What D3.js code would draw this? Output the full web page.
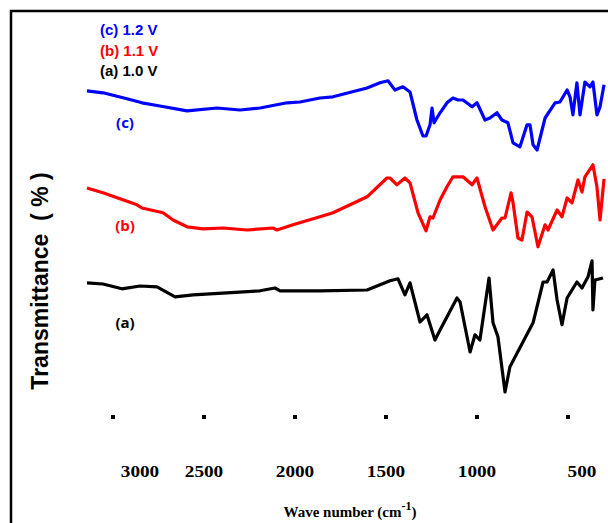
<!DOCTYPE html>
<meta charset="utf-8">
<script src="https://d3js.org/d3.v7.min.js"></script>
<style>
	body{
		margin:0;
		background:#fff;
	}
</style>
<div id="chart"></div>
<script>
// spectra, [wave number (cm-1), transmittance %]
var spectrumC = [[3143,82.3],[3055,81.8],[2923,80.3],[2841,79.3],[2742,78.5],[2593,77.3],[2429,78],[2302,77.5],[2192,78],[2044,79.3],[1973,79.5],[1863,80.5],[1791,80.8],[1604,83],[1533,84.3],[1489,84.8],[1451,82.5],[1407,83.3],[1368,82],[1330,75],[1297,71],[1280,71],[1258,73.8],[1247,78],[1236,74.3],[1203,76.8],[1165,79.3],[1132,80.5],[1104,80],[1077,80],[1027,78.3],[1000,79.3],[956,75],[929,75.5],[890,76.8],[863,75],[830,74.3],[802,69.3],[764,68.3],[725,73.8],[709,73.8],[692,68.8],[670,67.5],[626,75.5],[571,79.3],[544,79.5],[505,82.5],[489,80.8],[473,76.3],[451,84.3],[434,76.3],[407,84.5],[379,83.3],[363,84.5],[341,76.3],[324,78.3],[302,83.8]]

var spectrumB = [[3143,58],[3055,56.8],[2962,55.3],[2868,53.8],[2841,53],[2725,51.8],[2670,50],[2593,48.3],[2505,47.8],[2396,48],[2264,47.5],[2121,48],[2099,47.5],[2011,48.8],[1863,50.8],[1791,51.8],[1604,55.8],[1495,60.5],[1478,60.5],[1440,58.8],[1396,60.5],[1368,59.3],[1324,51.8],[1280,47.3],[1258,50.8],[1242,50.5],[1203,55],[1165,58.3],[1132,60.8],[1077,60.8],[1027,58.8],[1000,60.5],[956,53.3],[912,47.5],[863,50.5],[846,50.5],[813,56.8],[802,54.3],[775,45.5],[753,45],[725,52],[698,50.8],[665,43.3],[626,48.8],[610,47.5],[560,52.5],[533,50.8],[505,55.5],[478,54.3],[445,60],[423,57],[407,60.8],[363,63.8],[341,58.3],[324,50],[302,60.3]]

var spectrumA = [[3143,34.3],[3055,34],[2951,32.8],[2852,33.5],[2758,33.3],[2659,30.8],[2560,31.3],[2374,31.8],[2192,32.3],[2110,33],[2082,32.3],[1863,32.3],[1604,32.5],[1478,34.8],[1434,35.3],[1396,31.3],[1368,34.3],[1313,24.5],[1275,26.3],[1231,20],[1203,22.5],[1110,30.5],[1093,29.5],[1038,17],[1011,21.3],[984,20],[934,35.5],[912,24.3],[885,20.8],[846,7],[819,13.3],[692,24.3],[637,34.5],[615,34.5],[582,37.5],[560,30],[533,23.8],[505,30.5],[451,34.5],[423,33],[390,35.8],[368,39.8],[363,27.5],[352,35],[308,35.5]]

var xTicks = [3000,2500,2000,1500,1000,500]
var seriesNames = ["(a)","(b)","(c)"]
var legendNames = ["(c) 1.2 V","(b) 1.1 V","(a) 1.0 V"]
var seriesColors = ["#000000","#ff0000","#0000ff"]

var w = 608
var h = 523

var svg = d3.select("#chart").append("svg")
	.attr("width",w)
	.attr("height",h)

// outer frame, runs off the right and bottom edges
svg.append("rect")
	.attr("x",11).attr("y",11)
	.attr("width",700).attr("height",700)
	.attr("fill","none")
	.attr("stroke","#000")
	.attr("stroke-width",2.5)

var xScale = d3.scaleLinear().domain([3000,500]).range([113,568])
var yScale = d3.scaleLinear().domain([0,100]).range([420,20])

var line = d3.line()
	.x(function(d){ return xScale(d[0]) })
	.y(function(d){ return yScale(d[1]) })

var spectra = [spectrumA,spectrumB,spectrumC]
svg.selectAll(".spectrum")
	.data(spectra)
	.join("path")
	.attr("class","spectrum")
	.attr("d",line)
	.attr("fill","none")
	.attr("stroke",function(d,i){ return seriesColors[i] })
	.attr("stroke-width",3.2)
	.attr("stroke-linejoin","round")

// curve labels
var labelY = [323,226,123]
svg.selectAll(".curveLabel")
	.data(seriesNames)
	.join("text")
	.attr("class","curveLabel")
	.text(function(d){ return d })
	.attr("x",125)
	.attr("y",function(d,i){ return labelY[i] })
	.attr("dy","0.35em")
	.attr("text-anchor","middle")
	.attr("fill",function(d,i){ return seriesColors[i] })
	.style("font-family","'Open Sans', sans-serif")
	.style("font-weight","bold")
	.style("font-size","15px")

// legend top left
svg.selectAll(".legend")
	.data(legendNames)
	.join("text")
	.attr("class","legend")
	.text(function(d){ return d })
	.attr("x",100)
	.attr("y",function(d,i){ return 30+i*20.5 })
	.attr("dy","0.35em")
	.attr("fill",function(d,i){ return seriesColors[2-i] })
	.style("font-family","'Liberation Sans', Arial, sans-serif")
	.style("font-weight","bold")
	.style("font-size","15px")

// x axis: little square markers and the labels underneath
svg.selectAll(".tickMark")
	.data(xTicks)
	.join("rect")
	.attr("class","tickMark")
	.attr("x",function(d){ return xScale(d)-2 })
	.attr("y",415)
	.attr("width",4).attr("height",4)
	.attr("fill","#000")

// labels for 3000 and 500 sit off their marks in the original
var labelNudge = {3000:27, 500:14}
svg.selectAll(".tickLabel")
	.data(xTicks)
	.join("text")
	.attr("class","tickLabel")
	.text(function(d){ return d })
	.attr("x",function(d){ return xScale(d)+(labelNudge[d]||0) })
	.attr("y",471)
	.attr("dy","0.35em")
	.attr("text-anchor","middle")
	.attr("textLength",function(d){ return String(d).length*9.6 })
	.attr("lengthAdjust","spacingAndGlyphs")
	.style("font-family","'Liberation Serif', 'Times New Roman', serif")
	.style("font-weight","bold")
	.style("font-size","16px")

var xTitle = svg.append("text")
	.attr("x",350).attr("y",517)
	.attr("text-anchor","middle")
	.style("font-family","'Liberation Serif', 'Times New Roman', serif")
	.style("font-weight","bold")
	.style("font-size","15px")
xTitle.append("tspan").text("Wave number (cm")
xTitle.append("tspan").text("-1").attr("dy",-7).style("font-size","12px")
xTitle.append("tspan").text(")").attr("dy",7)

svg.append("text")
	.text("Transmittance  ( % )")
	.attr("transform","translate(48,281) rotate(-90)")
	.attr("text-anchor","middle")
	.style("white-space","pre")
	.style("font-family","'Liberation Sans', Arial, sans-serif")
	.style("font-weight","bold")
	.style("font-size","23px")
</script>
